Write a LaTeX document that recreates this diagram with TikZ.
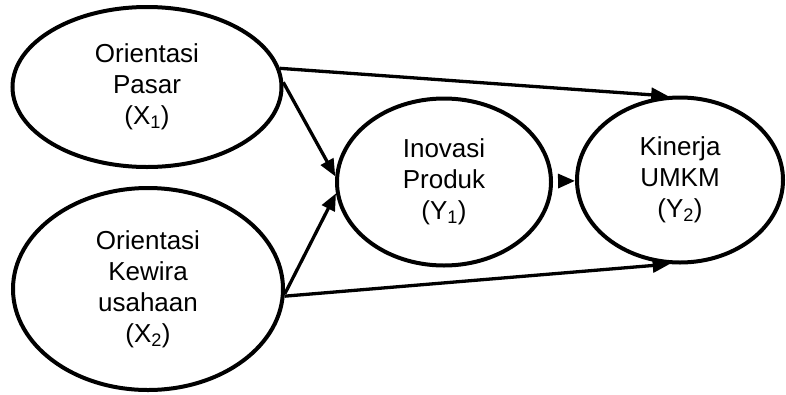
\documentclass[tikz,border=0pt]{standalone}
\usepackage{fontspec}
\setmainfont{Liberation Sans}
\usetikzlibrary{shapes.geometric,arrows.meta}
\tikzset{
   var/.style={draw, ellipse, line width=4pt, inner sep=0pt, align=center,
      font=\fontsize{26}{31}\selectfont},
   path/.style={line width=3.3pt, -{Triangle[length=17pt,width=14pt]}}
}
\begin{document}
\begin{tikzpicture}[x=1pt, y=-1pt]
   \useasboundingbox (0,0) rectangle (786,394);
   \node[var, minimum width=269pt, minimum height=160pt] (x1) at (147,87) {Orientasi\\Pasar\\(X\textsubscript{1})};
   \node[var, minimum width=270pt, minimum height=202pt] (x2) at (148,289) {Orientasi\\Kewira\\usahaan\\(X\textsubscript{2})};
   \node[var, minimum width=214pt, minimum height=167pt] (y1) at (444,182) {Inovasi\\Produk\\(Y\textsubscript{1})};
   \node[var, minimum width=206pt, minimum height=165pt] (y2) at (680,180) {Kinerja\\UMKM\\(Y\textsubscript{2})};
   \draw[path] (x1.8) -- (y2.98);
   \draw[path] (x1.2) -- (y1.177);
   \draw[path] (x2.-2) -- (y1.186);
   \draw[path] (x2.-3) -- (y2.263);
   \draw[path, shorten <=6pt] (y1) -- (y2);
\end{tikzpicture}
\end{document}
